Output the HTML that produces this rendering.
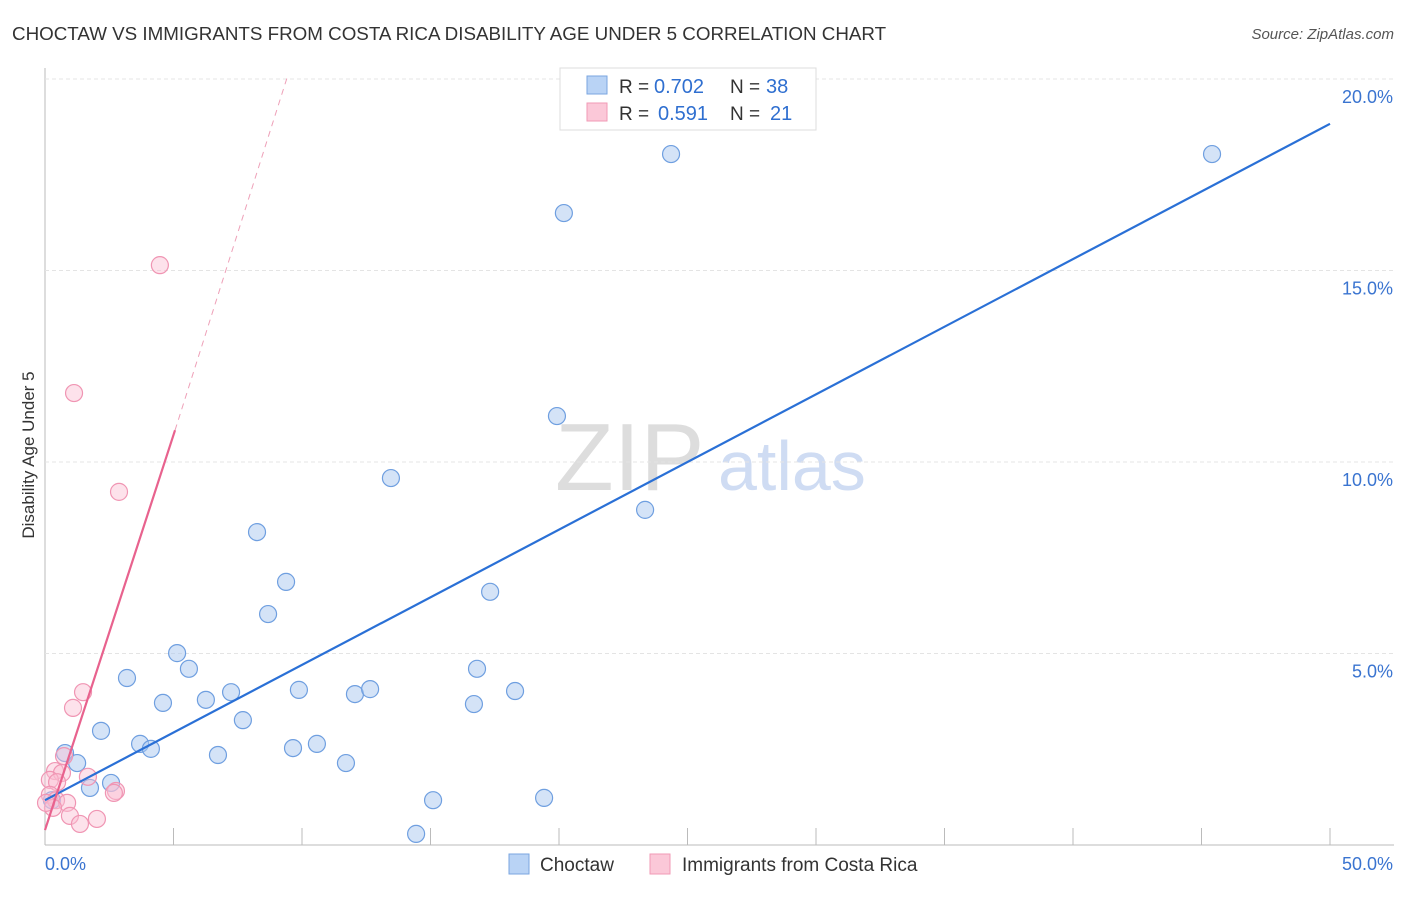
<!DOCTYPE html>
<html><head><meta charset="utf-8"><style>
body{margin:0;background:#fff;font-family:"Liberation Sans",sans-serif;}
svg text{font-family:"Liberation Sans",sans-serif;}
</style></head><body>
<svg id="c" width="1406" height="892">
<text x="12" y="40" font-size="18.8" fill="#333">CHOCTAW VS IMMIGRANTS FROM COSTA RICA DISABILITY AGE UNDER 5 CORRELATION CHART</text>
<text x="1394" y="39" font-size="15" fill="#555" font-style="italic" text-anchor="end">Source: ZipAtlas.com</text>
<text x="555" y="490" font-size="96" fill="#ddd" font-family="Liberation Serif">ZIP</text>
<text x="718" y="490" font-size="70" fill="#cfdcf3">atlas</text>
<text transform="translate(34,455) rotate(-90)" font-size="17" fill="#333" text-anchor="middle">Disability Age Under 5</text>
<g id="grid"></g><g id="pts"></g>
<g>
<rect x="560" y="68" width="256" height="62" fill="#fff" stroke="#ddd"/>
<rect x="587" y="76" width="20" height="18" fill="#b9d3f5" stroke="#7aa6e0"/>
<rect x="587" y="103" width="20" height="18" fill="#fbc8d8" stroke="#f09ab6"/>
<text x="619" y="93" font-size="19" fill="#333">R =</text>
<text x="654" y="93" font-size="20" fill="#2f6fd0">0.702</text>
<text x="730" y="93" font-size="19" fill="#333">N =</text>
<text x="766" y="93" font-size="20" fill="#2f6fd0">38</text>
<text x="619" y="120" font-size="19" fill="#333">R =</text>
<text x="658" y="120" font-size="20" fill="#2f6fd0">0.591</text>
<text x="730" y="120" font-size="19" fill="#333">N =</text>
<text x="770" y="120" font-size="20" fill="#2f6fd0">21</text>
</g>
<g>
<rect x="509" y="854" width="20" height="20" fill="#b9d3f5" stroke="#7aa6e0"/>
<text x="540" y="871" font-size="19" fill="#333">Choctaw</text>
<rect x="650" y="854" width="20" height="20" fill="#fbc8d8" stroke="#f09ab6"/>
<text x="682" y="871" font-size="19" fill="#333">Immigrants from Costa Rica</text>
</g>
</svg>
<script>
const blueX=[24.36,45.41,20.19,19.92,13.46,23.35,8.25,9.38,8.68,17.32,5.14,5.60,3.19,16.81,4.59,6.26,7.24,9.88,12.06,12.65,16.69,18.29,7.70,2.18,3.70,4.12,6.73,9.65,10.58,11.71,0.78,1.25,2.57,1.75,15.10,19.42,14.44,0.27];
const blueY=[18.04,18.04,16.50,11.20,9.58,8.75,8.17,6.87,6.03,6.61,5.01,4.60,4.36,4.60,3.71,3.79,3.99,4.05,3.94,4.07,3.68,4.02,3.26,2.98,2.64,2.51,2.35,2.53,2.64,2.14,2.40,2.14,1.62,1.49,1.17,1.23,0.29,1.17];
const pinkX=[4.47,1.13,2.88,1.48,1.09,0.74,1.67,2.76,2.68,0.39,0.66,0.19,0.47,0.19,0.43,0.86,0.31,0.97,1.36,2.02,0.04];
const pinkY=[15.14,11.80,9.22,3.99,3.58,2.32,1.78,1.41,1.36,1.93,1.88,1.70,1.64,1.31,1.17,1.10,0.97,0.76,0.55,0.68,1.10];
const blueTrend=[[0,1.17],[50,18.83]];
const pinkTrend=[[0,0.39],[5.06,10.83]];
const pinkDash=[[5.06,10.83],[9.45,20.1]];
const yTicks=[5,10,15,20];
const xTickVals=[0,5,10,15,20,25,30,35,40,45,50];
const NS="http://www.w3.org/2000/svg";
const X=v=>45+v*25.7, Y=v=>845-v*38.3;
function mk(p,t,a){const e=document.createElementNS(NS,t);for(const k in a)e.setAttribute(k,a[k]);p.appendChild(e);return e;}
const g=document.getElementById('grid'),P=document.getElementById('pts');
let e=mk(g,'line',{x1:45,y1:68,x2:45,y2:845,stroke:'#bbb'});


e=mk(g,'line',{x1:45,y1:845,x2:1394,y2:845,stroke:'#bbb'});


yTicks.forEach(v=>{
 e=mk(g,'line',{x1:45,y1:Y(v),x2:1394,y2:Y(v),stroke:'#e4e4e4','stroke-dasharray':'4,3'});
 
 
 e=mk(g,'text',{x:1393,y:Y(v)+24,'font-size':18,fill:'#3a74d0','text-anchor':'end'});
 e.textContent=v.toFixed(1)+'%';
 
 
});
xTickVals.slice(1).forEach(v=>{
 e=mk(g,'line',{x1:X(v),y1:828,x2:X(v),y2:845,stroke:'#bbb'});
 
 
});
e=mk(g,'text',{x:45,y:870,'font-size':18,fill:'#3a74d0'});e.textContent='0.0%';


e=mk(g,'text',{x:1393,y:870,'font-size':18,fill:'#3a74d0','text-anchor':'end'});e.textContent='50.0%';


blueX.forEach((v,i)=>{
 e=mk(P,'circle',{cx:X(v),cy:Y(blueY[i]),r:8.5,fill:'rgba(170,200,240,0.5)',stroke:'#6f9fe0','stroke-width':1.2});
 
 
});
pinkX.forEach((v,i)=>{
 e=mk(P,'circle',{cx:X(v),cy:Y(pinkY[i]),r:8.5,fill:'rgba(250,190,210,0.45)',stroke:'#f095b3','stroke-width':1.2});
 
 
});
e=mk(P,'line',{x1:X(blueTrend[0][0]),y1:Y(blueTrend[0][1]),x2:X(blueTrend[1][0]),y2:Y(blueTrend[1][1]),stroke:'#2a70d6','stroke-width':2.2});


e=mk(P,'line',{x1:X(pinkTrend[0][0]),y1:Y(pinkTrend[0][1]),x2:X(pinkTrend[1][0]),y2:Y(pinkTrend[1][1]),stroke:'#e8628e','stroke-width':2.2});


e=mk(P,'line',{x1:X(pinkDash[0][0]),y1:Y(pinkDash[0][1]),x2:X(pinkDash[1][0]),y2:Y(pinkDash[1][1]),stroke:'#eea0b8','stroke-width':1,'stroke-dasharray':'6,5'});


</script>
</body></html>
